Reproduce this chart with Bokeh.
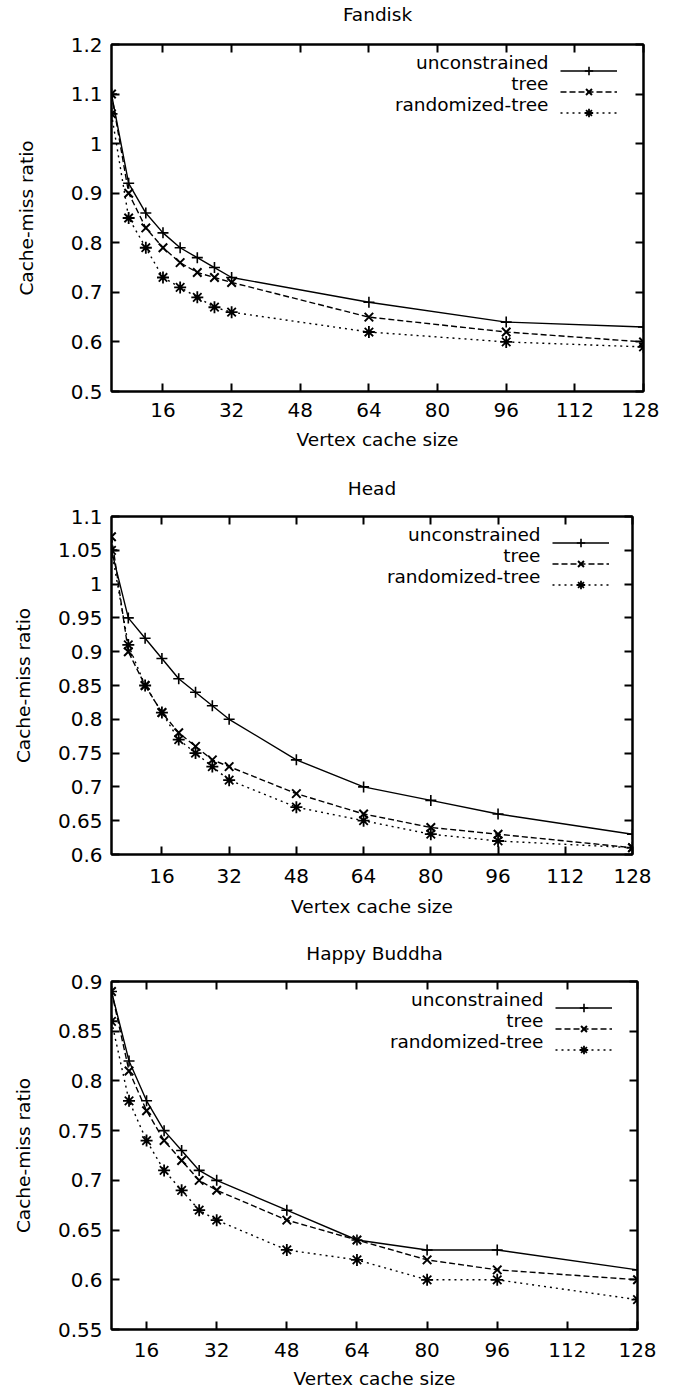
from bokeh.plotting import figure
from bokeh.layouts import column
from bokeh.models import (FixedTicker, LinearAxis, Range1d, Legend, LegendItem,
                          CustomJSTickFormatter, ColumnDataSource, Label)
from bokeh.core.properties import value
from bokeh.embed import file_html
from bokeh.resources import INLINE

# ---------------- data ----------------
series_names = ["unconstrained", "tree", "randomized-tree"]

fandisk_x = [4, 8, 12, 16, 20, 24, 28, 32, 64, 96, 128]
fandisk_unconstrained = [1.10, 0.92, 0.86, 0.82, 0.79, 0.77, 0.75, 0.73, 0.68, 0.64, 0.63]
fandisk_tree = [1.10, 0.90, 0.83, 0.79, 0.76, 0.74, 0.73, 0.72, 0.65, 0.62, 0.60]
fandisk_randomized = [1.06, 0.85, 0.79, 0.73, 0.71, 0.69, 0.67, 0.66, 0.62, 0.60, 0.59]

head_x = [4, 8, 12, 16, 20, 24, 28, 32, 48, 64, 80, 96, 128]
head_unconstrained = [1.05, 0.95, 0.92, 0.89, 0.86, 0.84, 0.82, 0.80, 0.74, 0.70, 0.68, 0.66, 0.63]
head_tree = [1.07, 0.90, 0.85, 0.81, 0.78, 0.76, 0.74, 0.73, 0.69, 0.66, 0.64, 0.63, 0.61]
head_randomized = [1.05, 0.91, 0.85, 0.81, 0.77, 0.75, 0.73, 0.71, 0.67, 0.65, 0.63, 0.62, 0.61]

buddha_x = [8, 12, 16, 20, 24, 28, 32, 48, 64, 80, 96, 128]
buddha_unconstrained = [0.89, 0.82, 0.78, 0.75, 0.73, 0.71, 0.70, 0.67, 0.64, 0.63, 0.63, 0.61]
buddha_tree = [0.89, 0.81, 0.77, 0.74, 0.72, 0.70, 0.69, 0.66, 0.64, 0.62, 0.61, 0.60]
buddha_randomized = [0.86, 0.78, 0.74, 0.71, 0.69, 0.67, 0.66, 0.63, 0.62, 0.60, 0.60, 0.58]

x_ticks = [16, 32, 48, 64, 80, 96, 112, 128]
fandisk_y_ticks = [0.5, 0.6, 0.7, 0.8, 0.9, 1.0, 1.1, 1.2]
head_y_ticks = [0.6, 0.65, 0.7, 0.75, 0.8, 0.85, 0.9, 0.95, 1.0, 1.05, 1.1]
buddha_y_ticks = [0.55, 0.6, 0.65, 0.7, 0.75, 0.8, 0.85, 0.9]

x_label = "Vertex cache size"
y_label = "Cache-miss ratio"

FONT = "DejaVu Sans"
FS = "18.5px"
TICK_FS = "20px"

styles = [
    dict(marker="cross", dash="solid", size=11, mlw=1.6),
    dict(marker="x", dash="6 3", size=12, mlw=2.0),
    dict(marker="asterisk", dash="2 4", size=12, mlw=1.8),
]

fmt = CustomJSTickFormatter(code="return String(Number(tick.toFixed(2)));")

LEG_GLYPH_W = 57
LEG_ROW = 21


def make_panel(title, xs, ys_list, xr, yr, y_ticks, fw, fh, bl, br, bt, bb,
               title_standoff, ylabel_standoff, xtick_standoff, xlabel_standoff,
               leg_x, leg_top):
    p = figure(frame_width=fw, frame_height=fh,
               x_range=Range1d(*xr), y_range=Range1d(*yr),
               output_backend="svg", toolbar_location=None,
               min_border_left=bl, min_border_right=br,
               min_border_top=bt, min_border_bottom=bb,
               x_axis_location=None, y_axis_location=None)
    p.grid.visible = False
    p.outline_line_color = "black"
    p.outline_line_width = 2
    p.background_fill_color = "white"
    p.border_fill_color = "white"

    def style_axis(ax, labels=True):
        ax.axis_line_width = 2
        ax.axis_line_color = "black"
        ax.major_tick_in = 8
        ax.major_tick_out = 0
        ax.major_tick_line_width = 2
        ax.major_tick_line_color = "black"
        ax.minor_tick_line_color = None
        ax.major_label_text_font = FONT
        if labels:
            ax.major_label_text_font_size = TICK_FS
            ax.major_label_text_color = "black"
        else:
            ax.major_label_text_font_size = "1px"
            ax.major_label_text_color = None
            ax.major_label_standoff = 0
        ax.axis_label_text_font = FONT
        ax.axis_label_text_font_size = FS
        ax.axis_label_text_font_style = "normal"
        ax.axis_label_text_color = "black"

    xb = LinearAxis(ticker=FixedTicker(ticks=x_ticks), axis_label=x_label)
    style_axis(xb)
    xb.major_label_standoff = xtick_standoff
    xb.axis_label_standoff = xlabel_standoff
    p.add_layout(xb, "below")

    # top border with mirrored ticks; its axis label carries the panel title
    xt = LinearAxis(ticker=FixedTicker(ticks=x_ticks), axis_label=title)
    style_axis(xt, labels=False)
    xt.axis_label_standoff = title_standoff
    p.add_layout(xt, "above")

    yl = LinearAxis(ticker=FixedTicker(ticks=y_ticks), axis_label=y_label, formatter=fmt)
    style_axis(yl)
    yl.major_label_standoff = 9
    yl.axis_label_standoff = ylabel_standoff
    p.add_layout(yl, "left")

    yr_ax = LinearAxis(ticker=FixedTicker(ticks=y_ticks))
    style_axis(yr_ax, labels=False)
    p.add_layout(yr_ax, "right")

    items = []
    for i, (name, ys, st) in enumerate(zip(series_names, ys_list, styles)):
        src = ColumnDataSource(dict(x=xs, y=ys))
        lr = p.line("x", "y", source=src, line_color="black", line_width=1.4,
                    line_dash=st["dash"])
        sr = p.scatter("x", "y", source=src, marker=st["marker"], size=st["size"],
                       line_color="black", line_width=st["mlw"], fill_color=None)
        # key sample only (text is drawn separately, right-aligned, gnuplot style)
        items.append(LegendItem(label=value(""), renderers=[lr, sr]))
        p.add_layout(Label(x=leg_x - 12, y=fh - leg_top - LEG_ROW * i,
                           x_units="screen", y_units="screen", text=name,
                           text_align="right", text_baseline="middle",
                           text_font=FONT, text_font_size=FS, text_color="black"))

    leg = Legend(items=items, location=(leg_x, fh - leg_top - 60.5),
                 glyph_width=LEG_GLYPH_W, glyph_height=LEG_ROW,
                 label_height=LEG_ROW, spacing=0, padding=0, margin=0,
                 label_standoff=0, label_text_color=None,
                 label_text_font=FONT, label_text_font_size=FS,
                 border_line_alpha=0, background_fill_alpha=0)
    p.add_layout(leg)
    return p


p1 = make_panel("Fandisk", fandisk_x,
                [fandisk_unconstrained, fandisk_tree, fandisk_randomized],
                (4, 128), (0.5, 1.2), fandisk_y_ticks,
                fw=532, fh=347, bl=101, br=26, bt=44, bb=70,
                title_standoff=20, ylabel_standoff=31,
                xtick_standoff=11, xlabel_standoff=9, leg_x=449, leg_top=18)
p2 = make_panel("Head", head_x,
                [head_unconstrained, head_tree, head_randomized],
                (4, 128), (0.6, 1.1), head_y_ticks,
                fw=521, fh=338, bl=109, br=29, bt=55, bb=70,
                title_standoff=18, ylabel_standoff=21,
                xtick_standoff=14, xlabel_standoff=10, leg_x=441, leg_top=18)
p3 = make_panel("Happy Buddha", buddha_x,
                [buddha_unconstrained, buddha_tree, buddha_randomized],
                (8, 128), (0.55, 0.9), buddha_y_ticks,
                fw=526, fh=348, bl=111, br=22, bt=57, bb=58,
                title_standoff=18, ylabel_standoff=21,
                xtick_standoff=13, xlabel_standoff=8, leg_x=444, leg_top=18)

layout = column(p1, p2, p3, spacing=0)
open("out.html", "w").write(file_html(layout, INLINE))
